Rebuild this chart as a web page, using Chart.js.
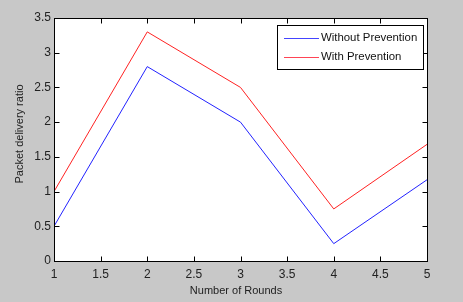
<!DOCTYPE html>
<html>
<head>
<meta charset="utf-8">
<script src="https://cdn.jsdelivr.net/npm/chart.js@4"></script>
<style>
html,body{margin:0;padding:0;background:#c8c8c8;}
#wrap{width:463px;height:302px;position:relative;}
</style>
</head>
<body>
<div id="wrap"><canvas id="c" width="463" height="302"></canvas></div>
<script>
const rounds = [1, 2, 3, 4, 5];
const withoutPrevention = [0.5, 2.8, 2.0, 0.25, 1.17];
const withPrevention = [1.0, 3.3, 2.5, 0.75, 1.68];
const xTicks = [1, 1.5, 2, 2.5, 3, 3.5, 4, 4.5, 5];
const yTicks = [0, 0.5, 1, 1.5, 2, 2.5, 3, 3.5];
const seriesNames = ['Without Prevention', 'With Prevention'];
const xTitle = 'Number of Rounds';
const yTitle = 'Packet delivery ratio';

const FONT = '"Liberation Sans", Arial, sans-serif';

const boxPlugin = {
  id: 'box',
  beforeDraw(chart) {
    const {ctx, chartArea: a} = chart;
    ctx.save();
    ctx.fillStyle = '#c8c8c8';
    ctx.fillRect(0, 0, chart.width, chart.height);
    ctx.fillStyle = '#ffffff';
    ctx.fillRect(a.left, a.top, a.right - a.left, a.bottom - a.top);
    ctx.restore();
  },
  afterDraw(chart) {
    const {ctx, chartArea: a, scales} = chart;
    ctx.save();
    ctx.strokeStyle = '#000';
    ctx.lineWidth = 1;
    const L = Math.round(a.left) + 0.5, R = Math.round(a.right) + 0.5;
    const T = Math.round(a.top) + 0.5, B = Math.round(a.bottom) + 0.5;
    ctx.strokeRect(L, T, R - L, B - T);
    const tl = 5;
    ctx.beginPath();
    xTicks.forEach(v => {
      const x = Math.round(scales.x.getPixelForValue(v)) + 0.5;
      ctx.moveTo(x, B); ctx.lineTo(x, B - tl);
      ctx.moveTo(x, T); ctx.lineTo(x, T + tl);
    });
    yTicks.forEach(v => {
      const y = Math.round(scales.y.getPixelForValue(v)) + 0.5;
      ctx.moveTo(L, y); ctx.lineTo(L + tl, y);
      ctx.moveTo(R, y); ctx.lineTo(R - tl, y);
    });
    ctx.stroke();

    // legend
    const lx = 277, ly = 25, lw = 146, lh = 44;
    ctx.fillStyle = '#fff';
    ctx.fillRect(lx + 0.5, ly + 0.5, lw, lh);
    ctx.strokeRect(lx + 0.5, ly + 0.5, lw, lh);
    const colors = ['#4444ff', '#ff4455'];
    const ys = [38, 57];
    ctx.font = '11.4px ' + FONT;
    ctx.textBaseline = 'middle';
    ctx.textAlign = 'left';
    seriesNames.forEach((n, i) => {
      ctx.strokeStyle = colors[i];
      ctx.beginPath();
      ctx.moveTo(284, ys[i] + 0.5); ctx.lineTo(319, ys[i] + 0.5);
      ctx.stroke();
      ctx.fillStyle = '#111';
      ctx.fillText(n, 321, ys[i]);
    });

    // axis titles
    ctx.font = '11px ' + FONT;
    ctx.fillStyle = '#222';
    ctx.textAlign = 'center';
    ctx.textBaseline = 'middle';
    ctx.fillText(xTitle, 236, 291);
    ctx.translate(20, 134);
    ctx.rotate(-Math.PI / 2);
    ctx.fillText(yTitle, 0, 0);
    ctx.restore();
  }
};

new Chart(document.getElementById('c'), {
  type: 'line',
  data: {
    datasets: [
      {
        label: seriesNames[0],
        data: rounds.map((r, i) => ({x: r, y: withoutPrevention[i]})),
        borderColor: '#2222ff',
        borderWidth: 1,
        pointRadius: 0,
        tension: 0,
        fill: false
      },
      {
        label: seriesNames[1],
        data: rounds.map((r, i) => ({x: r, y: withPrevention[i]})),
        borderColor: '#ff2222',
        borderWidth: 1,
        pointRadius: 0,
        tension: 0,
        fill: false
      }
    ]
  },
  plugins: [boxPlugin],
  options: {
    responsive: false,
    animation: false,
    devicePixelRatio: 1,
    layout: {padding: {top: 18, right: 36, left: 0, bottom: 0}},
    plugins: {legend: {display: false}, tooltip: {enabled: false}, title: {display: false}},
    scales: {
      x: {
        type: 'linear',
        min: 1, max: 5,
        afterBuildTicks(s) { s.ticks = xTicks.map(v => ({value: v})); },
        afterFit(s) { s.height = 41; },
        grid: {display: false, drawTicks: false},
        border: {display: false},
        ticks: {
          color: '#222',
          font: {family: FONT, size: 12},
          padding: 6,
          maxRotation: 0,
          autoSkip: false,
          callback: v => String(v)
        }
      },
      y: {
        type: 'linear',
        min: 0, max: 3.5,
        afterBuildTicks(s) { s.ticks = yTicks.map(v => ({value: v})); },
        afterFit(s) { s.width = 54; },
        grid: {display: false, drawTicks: false},
        border: {display: false},
        ticks: {
          color: '#222',
          font: {family: FONT, size: 12},
          padding: 3,
          autoSkip: false,
          callback: v => String(v)
        }
      }
    }
  }
});
</script>
</body>
</html>
